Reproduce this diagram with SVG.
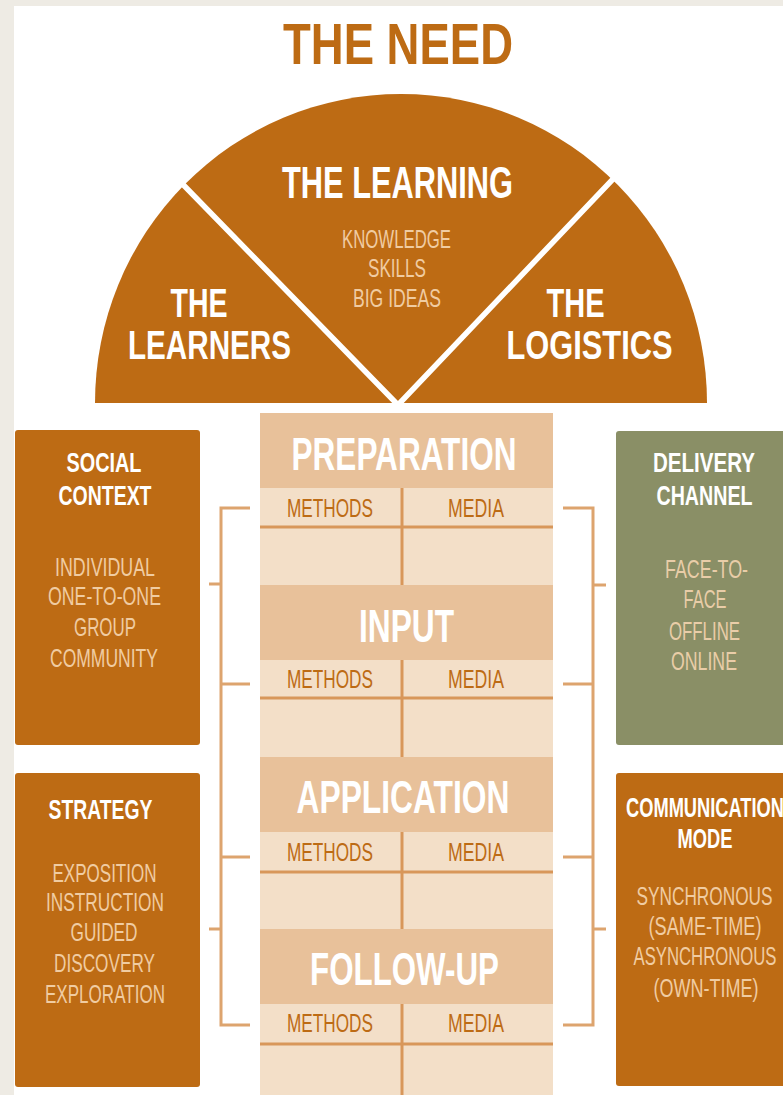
<svg xmlns="http://www.w3.org/2000/svg" width="783" height="1095" viewBox="0 0 783 1095">
  <defs>
    <style>
      .hd { font-family: "Liberation Sans Narrow", "Liberation Sans", Arial, sans-serif; font-weight: bold; text-anchor: middle; }
      .it { font-family: "Liberation Sans Narrow", "Liberation Sans", Arial, sans-serif; font-weight: normal; text-anchor: middle; }
      .white { fill: #ffffff; }
      .rust { fill: #BD6B14; }
      .peach { fill: #F0CCA2; }
      .sage-item { fill: #E9CDA8; }
      .box-rust { fill: #BD6B14; }
      .box-sage { fill: #8A8F66; }
      .band { fill: #E8C19A; }
      .cell { fill: #F3DFC8; }
      .rule { stroke: #D8975A; stroke-width: 3; fill: none; }
      .bracket { stroke: #DDA46E; stroke-width: 3; fill: none; stroke-linecap: butt; }
    </style>
  </defs>

  <!-- page frame -->
  <rect x="0" y="0" width="783" height="1095" fill="#EEEBE4"/>
  <rect x="14" y="6" width="769" height="1089" fill="#ffffff"/>

  <!-- title -->
  <g id="title">
    <text class="hd rust" x="398" y="64" font-size="58" textLength="230" lengthAdjust="spacingAndGlyphs">THE NEED</text>
  </g>

  <!-- half disc split into three sectors -->
  <g id="need-dome">
    <path d="M95,403 A306,309 0 0 1 707,403 Z" fill="#BD6B14"/>
    <path d="M163,164 L398,405 L634,157" stroke="#ffffff" stroke-width="5.5" fill="none" stroke-linejoin="miter"/>
  </g>

  <g id="the-learning">
    <text class="hd white" x="397.5" y="198" font-size="44" textLength="231" lengthAdjust="spacingAndGlyphs">THE LEARNING</text>
    <text class="it peach" x="396.5" y="248" font-size="25" textLength="109" lengthAdjust="spacingAndGlyphs">KNOWLEDGE</text>
    <text class="it peach" x="397" y="277" font-size="25" textLength="58" lengthAdjust="spacingAndGlyphs">SKILLS</text>
    <text class="it peach" x="397" y="307" font-size="25" textLength="88" lengthAdjust="spacingAndGlyphs">BIG IDEAS</text>
  </g>

  <g id="the-learners">
    <text class="hd white" x="199" y="317" font-size="40" textLength="57" lengthAdjust="spacingAndGlyphs">THE</text>
    <text class="hd white" x="209.5" y="359" font-size="40" textLength="163" lengthAdjust="spacingAndGlyphs">LEARNERS</text>
  </g>

  <g id="the-logistics">
    <text class="hd white" x="575.5" y="317" font-size="40" textLength="58" lengthAdjust="spacingAndGlyphs">THE</text>
    <text class="hd white" x="589.5" y="359" font-size="40" textLength="166" lengthAdjust="spacingAndGlyphs">LOGISTICS</text>
  </g>

  <!-- central phase column -->
  <g id="phase-column">
    <rect class="cell" x="260" y="413" width="293" height="682"/>
  </g>

  <g id="preparation">
    <rect class="band" x="260" y="413" width="293" height="75"/>
    <text class="hd white" x="404" y="470" font-size="46" textLength="225" lengthAdjust="spacingAndGlyphs">PREPARATION</text>
    <line class="rule" x1="260" y1="527" x2="553" y2="527"/>
    <line class="rule" x1="402" y1="488" x2="402" y2="585"/>
    <text class="it rust" x="330" y="517" font-size="26" textLength="86" lengthAdjust="spacingAndGlyphs">METHODS</text>
    <text class="it rust" x="476" y="517" font-size="26" textLength="56" lengthAdjust="spacingAndGlyphs">MEDIA</text>
  </g>

  <g id="input">
    <rect class="band" x="260" y="585" width="293" height="75"/>
    <text class="hd white" x="406.5" y="642" font-size="46" textLength="95" lengthAdjust="spacingAndGlyphs">INPUT</text>
    <line class="rule" x1="260" y1="698" x2="553" y2="698"/>
    <line class="rule" x1="402" y1="660" x2="402" y2="757"/>
    <text class="it rust" x="330" y="688" font-size="26" textLength="86" lengthAdjust="spacingAndGlyphs">METHODS</text>
    <text class="it rust" x="476" y="688" font-size="26" textLength="56" lengthAdjust="spacingAndGlyphs">MEDIA</text>
  </g>

  <g id="application">
    <rect class="band" x="260" y="757" width="293" height="75"/>
    <text class="hd white" x="403" y="813" font-size="46" textLength="213" lengthAdjust="spacingAndGlyphs">APPLICATION</text>
    <line class="rule" x1="260" y1="872" x2="553" y2="872"/>
    <line class="rule" x1="402" y1="832" x2="402" y2="929"/>
    <text class="it rust" x="330" y="861" font-size="26" textLength="86" lengthAdjust="spacingAndGlyphs">METHODS</text>
    <text class="it rust" x="476" y="861" font-size="26" textLength="56" lengthAdjust="spacingAndGlyphs">MEDIA</text>
  </g>

  <g id="follow-up">
    <rect class="band" x="260" y="929" width="293" height="75"/>
    <text class="hd white" x="404.5" y="985" font-size="46" textLength="189" lengthAdjust="spacingAndGlyphs">FOLLOW-UP</text>
    <line class="rule" x1="260" y1="1044" x2="553" y2="1044"/>
    <line class="rule" x1="402" y1="1004" x2="402" y2="1095"/>
    <text class="it rust" x="330" y="1032" font-size="26" textLength="86" lengthAdjust="spacingAndGlyphs">METHODS</text>
    <text class="it rust" x="476" y="1032" font-size="26" textLength="56" lengthAdjust="spacingAndGlyphs">MEDIA</text>
  </g>

  <!-- side boxes -->
  <g id="social-context">
    <rect class="box-rust" x="15" y="430" width="185" height="315" rx="3"/>
    <text class="hd white" x="104" y="472" font-size="28" textLength="75" lengthAdjust="spacingAndGlyphs">SOCIAL</text>
    <text class="hd white" x="105" y="505" font-size="28" textLength="93" lengthAdjust="spacingAndGlyphs">CONTEXT</text>
    <text class="it peach" x="105" y="576" font-size="25" textLength="100" lengthAdjust="spacingAndGlyphs">INDIVIDUAL</text>
    <text class="it peach" x="104.5" y="605" font-size="25" textLength="113" lengthAdjust="spacingAndGlyphs">ONE-TO-ONE</text>
    <text class="it peach" x="105" y="636" font-size="25" textLength="62" lengthAdjust="spacingAndGlyphs">GROUP</text>
    <text class="it peach" x="104" y="667" font-size="25" textLength="108" lengthAdjust="spacingAndGlyphs">COMMUNITY</text>
  </g>

  <g id="strategy">
    <rect class="box-rust" x="15" y="773" width="185" height="314" rx="3"/>
    <text class="hd white" x="100.5" y="819" font-size="28" textLength="104" lengthAdjust="spacingAndGlyphs">STRATEGY</text>
    <text class="it peach" x="104.5" y="882" font-size="25" textLength="104" lengthAdjust="spacingAndGlyphs">EXPOSITION</text>
    <text class="it peach" x="105" y="911" font-size="25" textLength="118" lengthAdjust="spacingAndGlyphs">INSTRUCTION</text>
    <text class="it peach" x="104" y="941" font-size="25" textLength="67" lengthAdjust="spacingAndGlyphs">GUIDED</text>
    <text class="it peach" x="104.5" y="972" font-size="25" textLength="101" lengthAdjust="spacingAndGlyphs">DISCOVERY</text>
    <text class="it peach" x="105" y="1003" font-size="25" textLength="120" lengthAdjust="spacingAndGlyphs">EXPLORATION</text>
  </g>

  <g id="delivery-channel">
    <path class="box-sage" d="M783,431 H619 Q616,431 616,434 V742 Q616,745 619,745 H783 Z"/>
    <text class="hd white" x="704" y="472" font-size="28" textLength="102" lengthAdjust="spacingAndGlyphs">DELIVERY</text>
    <text class="hd white" x="704.5" y="505" font-size="28" textLength="96" lengthAdjust="spacingAndGlyphs">CHANNEL</text>
    <text class="it sage-item" x="706.5" y="578" font-size="25" textLength="83" lengthAdjust="spacingAndGlyphs">FACE-TO-</text>
    <text class="it sage-item" x="705" y="608" font-size="25" textLength="43" lengthAdjust="spacingAndGlyphs">FACE</text>
    <text class="it sage-item" x="704.5" y="640" font-size="25" textLength="71" lengthAdjust="spacingAndGlyphs">OFFLINE</text>
    <text class="it sage-item" x="704" y="670" font-size="25" textLength="66" lengthAdjust="spacingAndGlyphs">ONLINE</text>
  </g>

  <g id="communication-mode">
    <path class="box-rust" d="M783,773 H619 Q616,773 616,776 V1083 Q616,1086 619,1086 H783 Z"/>
    <text class="hd white" x="705" y="817" font-size="28" textLength="158" lengthAdjust="spacingAndGlyphs">COMMUNICATION</text>
    <text class="hd white" x="705" y="848" font-size="28" textLength="55" lengthAdjust="spacingAndGlyphs">MODE</text>
    <text class="it peach" x="704.5" y="905" font-size="25" textLength="136" lengthAdjust="spacingAndGlyphs">SYNCHRONOUS</text>
    <text class="it peach" x="705" y="935" font-size="25" textLength="113" lengthAdjust="spacingAndGlyphs">(SAME-TIME)</text>
    <text class="it peach" x="705" y="965" font-size="25" textLength="143" lengthAdjust="spacingAndGlyphs">ASYNCHRONOUS</text>
    <text class="it peach" x="706" y="997" font-size="25" textLength="105" lengthAdjust="spacingAndGlyphs">(OWN-TIME)</text>
  </g>

  <!-- brackets tying the phases to the side boxes -->
  <g id="connectors">
    <path class="bracket" d="M250,508 H221 V1025 H250"/>
    <path class="bracket" d="M221,684 H250 M221,857 H250 M221,584 H209 M221,929 H209"/>
    <path class="bracket" d="M563,508 H593 V1025 H563"/>
    <path class="bracket" d="M593,684 H563 M593,857 H563 M593,585 H606 M593,929 H606"/>
  </g>
</svg>
